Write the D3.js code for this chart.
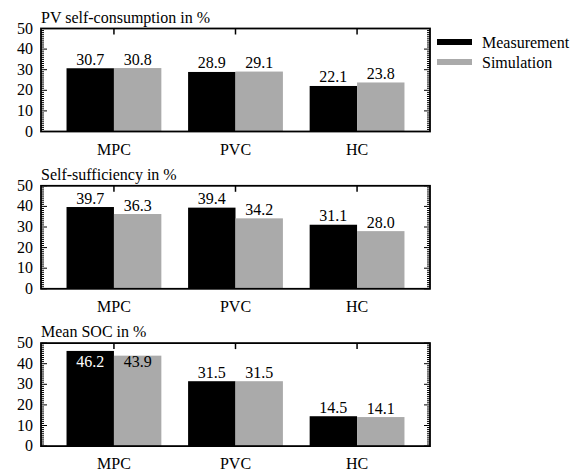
<!DOCTYPE html>
<html>
<head>
<meta charset="utf-8">
<script src="https://cdn.jsdelivr.net/npm/d3@7"></script>
</head>
<body style="margin:0; background:#fff">
<script>
const width = 576;
const height = 472;

const categories = ["MPC", "PVC", "HC"];
const series = ["Measurement", "Simulation"];
const titles = ["PV self-consumption in %", "Self-sufficiency in %", "Mean SOC in %"];
const selfConsumption = [[30.7, 30.8], [28.9, 29.1], [22.1, 23.8]];
const selfSufficiency = [[39.7, 36.3], [39.4, 34.2], [31.1, 28.0]];
const meanSoc = [[46.2, 43.9], [31.5, 31.5], [14.5, 14.1]];
const yTicks = [0, 10, 20, 30, 40, 50];

const panels = [selfConsumption, selfSufficiency, meanSoc];
const colors = ["#000000", "#aaaaaa"];

const svg = d3.select("body").append("svg")
    .attr("width", width)
    .attr("height", height)
    .style("font-family", "'Liberation Serif'")
    .style("font-size", "16px");

const left = 41, right = 430;
const panelH = 103;
const barW = 0.39;

const x = d3.scaleLinear().domain([-0.6, 2.6]).range([left, right]);

panels.forEach((data, p) => {
    const top = 28.5 + p * 157.3;
    const bottom = top + panelH;
    const y = d3.scaleLinear().domain([0, 50]).range([bottom, top]);
    const g = svg.append("g");

    // bars
    data.forEach((vals, i) => {
        vals.forEach((v, s) => {
            const x0 = s === 0 ? x(i - barW) : x(i);
            g.append("rect")
                .attr("x", x0)
                .attr("y", y(v))
                .attr("width", x(barW) - x(0))
                .attr("height", y(0) - y(v))
                .attr("fill", colors[s]);

            // labels that would hit the top go inside the bar
            const inside = v > 42;
            g.append("text")
                .attr("x", x0 + (x(barW) - x(0)) / 2)
                .attr("y", inside ? y(38.3) : y(v) - 3.5)
                .attr("text-anchor", "middle")
                .attr("fill", inside && s === 0 ? "#fff" : "#000")
                .text(v.toFixed(1));
        });
    });

    // minor ticks left / right
    const minor = d3.range(0, 51, 1);
    g.selectAll(".minL").data(minor).enter().append("line")
        .attr("x1", left).attr("x2", d => left + (d % 10 === 0 ? 6 : 3))
        .attr("y1", d => y(d)).attr("y2", d => y(d))
        .attr("stroke", "#000").attr("stroke-width", 1);
    g.selectAll(".minR").data(minor).enter().append("line")
        .attr("x1", right).attr("x2", d => right - (d % 10 === 0 ? 6 : 3))
        .attr("y1", d => y(d)).attr("y2", d => y(d))
        .attr("stroke", "#000").attr("stroke-width", 1);

    // x ticks on top
    categories.forEach((c, i) => {
        g.append("line")
            .attr("x1", x(i)).attr("x2", x(i))
            .attr("y1", top).attr("y2", top + 6)
            .attr("stroke", "#000").attr("stroke-width", 1.5);
        g.append("text")
            .attr("x", x(i))
            .attr("y", bottom + 23)
            .attr("text-anchor", "middle")
            .text(c);
    });

    // y tick labels
    yTicks.forEach(t => {
        g.append("text")
            .attr("x", 33)
            .attr("y", y(t) + 5)
            .attr("text-anchor", "end")
            .text(t);
    });

    // frame
    g.append("rect")
        .attr("x", left).attr("y", top)
        .attr("width", right - left).attr("height", panelH)
        .attr("fill", "none").attr("stroke", "#000").attr("stroke-width", 1.8);

    g.append("text")
        .attr("x", left)
        .attr("y", top - 6)
        .text(titles[p]);
});

// legend
series.forEach((s, i) => {
    svg.append("rect")
        .attr("x", 437).attr("y", 39 + i * 20)
        .attr("width", 35).attr("height", 6)
        .attr("fill", colors[i]);
    svg.append("text")
        .attr("x", 482).attr("y", 47.5 + i * 20)
        .text(s);
});
</script>
</body>
</html>
